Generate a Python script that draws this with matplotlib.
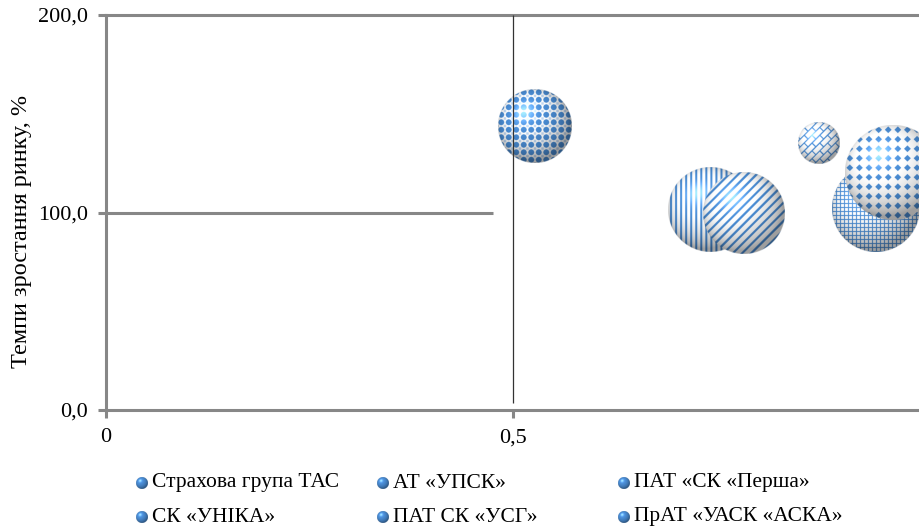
import numpy as np
import matplotlib
matplotlib.use('Agg')
import matplotlib.pyplot as plt

plt.rcParams['font.family'] = ['Liberation Serif', 'DejaVu Serif']

# companies: relative market share (x), market growth rate, % (y), bubble size
companies = ['Страхова група ТАС', 'АТ «УПСК»', 'ПАТ «СК «Перша»',
             'СК «УНІКА»', 'ПАТ СК «УСГ»', 'ПрАТ «УАСК «АСКА»']
rel_share = [0.527, 0.742, 0.784, 0.876, 0.946, 0.966]
growth = [143.8, 101.3, 99.7, 135.2, 102.3, 120.5]
bubble_size = [7.5, 9.7, 9.2, 2.4, 10.6, 12.4]

x_ticks = [0, 0.5]
x_ticklabels = ['0', '0,5']
y_ticks = [0, 100, 200]
y_ticklabels = ['0,0', '100,0', '200,0']

fills = ['dots', 'vert', 'diag', 'brick', 'grid', 'diamond']

W, H = 919, 528
GRAY = '#878787'
BLUE = np.array([0.29, 0.55, 0.83])
PALE = np.array([0.75, 0.84, 0.94])
MAX_R = 47.5  # pixel radius of the biggest bubble


def fill_masks(kind, px, py):
    none = np.zeros(px.shape, bool)
    if kind == 'dots':
        p = 7.5
        a = np.mod(px, p) - p / 2
        b = np.mod(py, p) - p / 2
        main = a ** 2 + b ** 2 < 2.9 ** 2
        a2 = np.mod(px + p / 2, p) - p / 2
        b2 = np.mod(py + p / 2, p) - p / 2
        minor = (np.abs(a2) < 1.2) & (np.abs(b2) < 1.2)
        return main, minor
    if kind == 'vert':
        return np.mod(px, 5.0) < 1.8, none
    if kind == 'diag':
        d = (px - py) / np.sqrt(2)
        return np.mod(d, 6.5) < 2.2, none
    if kind == 'brick':
        u = (px + py) / np.sqrt(2)
        v = (px - py) / np.sqrt(2)
        h = 5.5
        row = np.floor(v / h)
        hl = np.mod(v, h) < 1.1
        vl = np.mod(u + np.mod(row, 2) * 5.5, 11.0) < 1.1
        return hl | vl, none
    if kind == 'grid':
        return (np.mod(px, 4.0) < 1.0) | (np.mod(py, 4.0) < 1.0), none
    if kind == 'diamond':
        p = 9.5
        a = np.mod(px, p) - p / 2
        b = np.mod(py, p) - p / 2
        return np.abs(a) + np.abs(b) < 3.3, none
    return np.ones(px.shape, bool), none


def bubble_rgba(r, kind, ss=4):
    n = int(np.ceil(2 * r * ss))
    c = (np.arange(n) + 0.5) / ss - n / (2 * ss)
    px, py = np.meshgrid(c, c)
    d = np.hypot(px, py)
    u = np.clip(px / r, -1, 1)
    v = np.clip(py / r, -1, 1)
    nz = np.sqrt(np.clip(1 - u ** 2 - v ** 2, 0, 1))
    L = np.array([-0.35, 0.45, 1.0])
    L /= np.linalg.norm(L)
    diff = np.clip(u * L[0] + v * L[1] + nz * L[2], 0, 1)
    spec = diff ** 30 * 0.35
    fg, light = fill_masks(kind, px, py)
    rgb = np.ones(px.shape + (3,))
    rgb[light] = PALE
    rgb[fg] = BLUE
    shade = 0.62 + 0.45 * diff
    rgb = np.clip(rgb * shade[..., None] + spec[..., None], 0, 1)
    alpha = np.clip((r - d) * 1.5 + 0.5, 0, 1)
    return np.dstack([rgb, alpha])


fig = plt.figure(figsize=(W / 100, H / 100), dpi=100)
ax = fig.add_axes([106 / W, 118 / H, 814 / W, 395 / H])
ax.set_xlim(0, 1.0)
ax.set_ylim(0, 200)

for side in ['top', 'right']:
    ax.spines[side].set_visible(False)
for side in ['left', 'bottom']:
    ax.spines[side].set_color(GRAY)
    ax.spines[side].set_linewidth(2.2)

ax.set_xticks(x_ticks)
ax.set_xticklabels(x_ticklabels)
ax.set_yticks(y_ticks)
ax.set_yticklabels(y_ticklabels)
ax.tick_params(direction='out', length=6, width=2.2, color=GRAY,
               labelsize=16, pad=7)

ax.axhline(200, color=GRAY, lw=2.2, clip_on=False, zorder=2)
ax.hlines(100, 0, 0.475, color=GRAY, lw=2.2, zorder=2)
ax.vlines(0.5, 3.5, 200, color='#333333', lw=0.9, zorder=10)

# pixel -> data scale for the bubble extents
x_per_px = 1.0 / 814
y_per_px = 200 / 395
smax = max(bubble_size)
for i in range(len(companies)):
    r = MAX_R * np.sqrt(bubble_size[i] / smax)
    img = bubble_rgba(r, fills[i])
    rx, ry = r * x_per_px, r * y_per_px
    ax.imshow(img, origin='lower', aspect='auto', zorder=3 + i,
              extent=[rel_share[i] - rx, rel_share[i] + rx,
                      growth[i] - ry, growth[i] + ry])
ax.set_xlim(0, 1.0)
ax.set_ylim(0, 200)

fig.text(22 / W, 1 - 231 / H, 'Темпи зростання ринку, %', rotation=90,
         ha='center', va='center', fontsize=17.5)

# legend laid out row by row, three columns; icons are small shaded spheres
big = bubble_rgba(6.0, 'solid', ss=4)
k = big.shape[0] // 4
icon = big[:k * 4, :k * 4].reshape(k, 4, k, 4, 4).mean(axis=(1, 3))
for i, name in enumerate(companies):
    row, col = divmod(i, 3)
    cx = 142 + 241 * col
    cy = 483 + 34 * row
    fig.figimage(icon, xo=int(cx - k / 2), yo=int(H - cy - k / 2),
                 origin='lower', zorder=5)
    fig.text((cx + 10) / W, 1 - cy / H, name, ha='left', va='center',
             fontsize=15.5)

fig.savefig('out.png', dpi=100)
